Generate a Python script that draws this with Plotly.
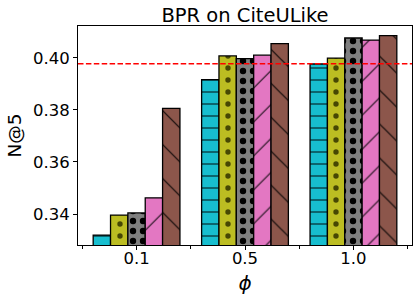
import plotly.graph_objects as go

# ---- data ----
phi_labels = ["0.1", "0.5", "1.0"]
group_pos = [0, 1, 2]
minor_pos = [-0.5, 0.5, 1.5, 2.5]
y_ticks = [0.34, 0.36, 0.38, 0.40]

series_names = ["Method 1", "Method 2", "Method 3", "Method 4", "Method 5"]
vals_cyan = [0.3319, 0.3916, 0.3976]
vals_olive = [0.3396, 0.4007, 0.3999]
vals_gray = [0.3404, 0.3997, 0.4076]
vals_pink = [0.3462, 0.4010, 0.4068]
vals_brown = [0.3806, 0.4054, 0.4085]
baseline = 0.3977

series_values = [vals_cyan, vals_olive, vals_gray, vals_pink, vals_brown]
colors = ["#17becf", "#bcbd22", "#7f7f7f", "#e377c2", "#8c564b"]
patterns = [
    dict(shape="-", size=12, solidity=0.13, fgcolor="black", fgopacity=0.6, fillmode="overlay"),
    dict(shape=".", size=12, solidity=0.16, fgcolor="#3a3a00", fgopacity=0.9, fillmode="overlay"),
    dict(shape=".", size=10, solidity=0.32, fgcolor="black", fgopacity=1.0, fillmode="overlay"),
    dict(shape="/", size=24, solidity=0.05, fgcolor="black", fgopacity=0.85, fillmode="overlay"),
    dict(shape="\\", size=24, solidity=0.05, fgcolor="black", fgopacity=0.9, fillmode="overlay"),
]

FONT = "DejaVu Sans"

fig = go.Figure()
for name, vals, col, pat in zip(series_names, series_values, colors, patterns):
    fig.add_trace(go.Bar(
        x=group_pos, y=vals, name=name,
        marker=dict(color=col, line=dict(color="black", width=1.3), pattern=pat),
        showlegend=False,
    ))

fig.add_hline(y=baseline, line=dict(color="red", width=1.6, dash="5.5px,2.4px"))

fig.update_layout(
    template="none",
    width=419, height=301,
    margin=dict(l=78, r=7, t=26, b=56, autoexpand=False),
    paper_bgcolor="white", plot_bgcolor="white",
    barmode="group", bargap=0.2, bargroupgap=0,
    font=dict(family=FONT, color="black", size=16),
    title=dict(text="BPR on CiteULike", x=0.5, xref="paper", xanchor="center",
               y=1 - 15.5 / 301, yref="container", yanchor="middle",
               font=dict(size=19.5, family=FONT, color="black")),
)

fig.update_xaxes(
    automargin=False,
    range=[-0.54, 2.54],
    tickvals=group_pos, ticktext=phi_labels,
    ticks="outside", ticklen=4, tickwidth=1, tickcolor="black",
    ticklabelstandoff=-6,
    showline=True, mirror=True, linecolor="black", linewidth=1,
    showgrid=False, zeroline=False,
    tickfont=dict(size=16.5, family=FONT),
    minor=dict(tickvals=minor_pos, ticks="outside", ticklen=3, tickwidth=1, tickcolor="black", showgrid=False),
    title=dict(text="<i>ϕ</i>", font=dict(size=20, family=FONT), standoff=9),
)
fig.update_yaxes(
    automargin=False,
    range=[0.3281, 0.4122],
    tickvals=y_ticks, tickformat=".2f",
    ticks="outside", ticklen=4, tickwidth=1, tickcolor="black",
    showline=True, mirror=True, linecolor="black", linewidth=1,
    showgrid=False, zeroline=False,
    tickfont=dict(size=16.5, family=FONT),
    title=dict(text="N@5", font=dict(size=18.5, family=FONT), standoff=6),
)

fig.write_html("out.html", config={"displayModeBar": False},
               post_script="document.body.style.margin='0px';document.body.style.overflow='hidden';")
